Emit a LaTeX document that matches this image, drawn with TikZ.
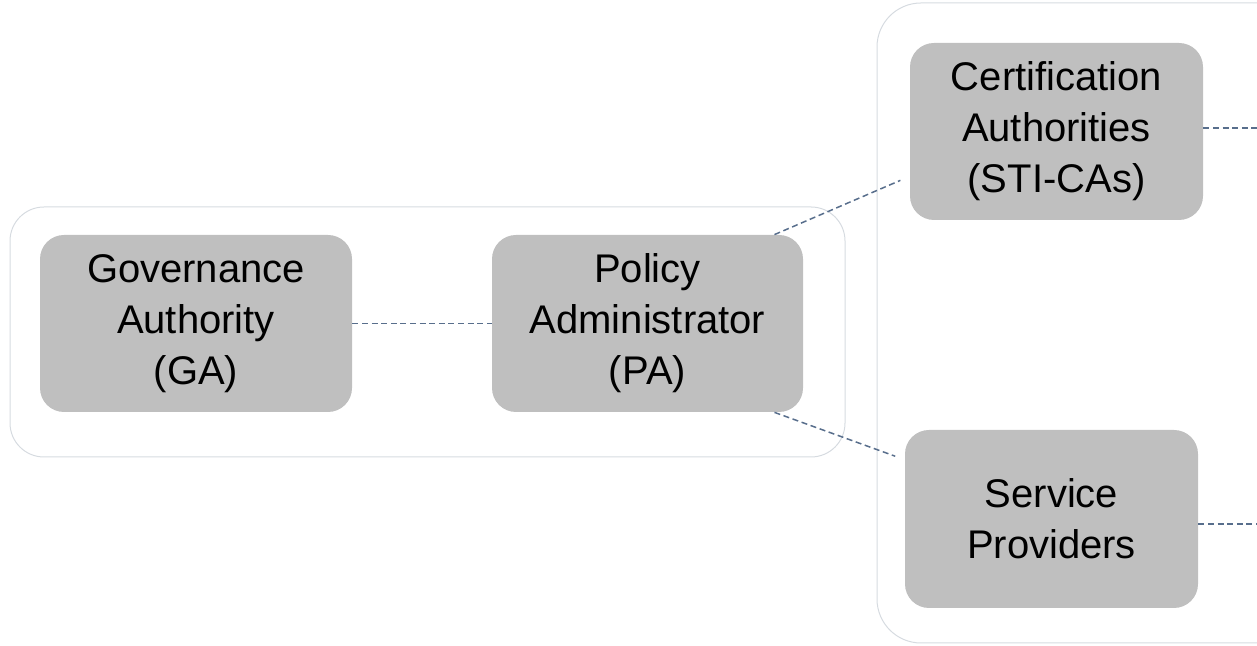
\documentclass[tikz,border=0pt]{standalone}
\usepackage{fontspec}
\setmainfont{Liberation Sans}
\usetikzlibrary{calc}
\definecolor{boxgray}{RGB}{191,191,191}
\definecolor{linkblue}{RGB}{88,110,140}
\definecolor{framegray}{RGB}{214,219,224}

\begin{document}
\begin{tikzpicture}[x=0.5pt,y=0.5pt,
    role/.style={fill=boxgray,rounded corners=12pt,align=center,inner sep=0pt,
      font=\fontsize{20}{25.5}\selectfont},
    link/.style={draw=linkblue,line width=0.75pt,dash pattern=on 3pt off 1.8pt},
    frame/.style={draw=framegray,line width=0.5pt}]
        \clip (0,0) rectangle (1257,646);
        % left group
        \draw[frame,rounded corners=17pt] (10,189) rectangle (845,439);
        % right group
        \draw[frame,rounded corners=22pt] (877,3) rectangle (1310,643);
        % authorities
        \node[role,minimum width=156pt,minimum height=88.5pt] (ga) at (196,322.5) {Governance\\Authority\\(GA)};
        \node[role,minimum width=155.5pt,minimum height=88.5pt] (pa) at (647.5,322.5) {Policy\\Administrator\\(PA)};
        \node[role,minimum width=146.5pt,minimum height=88.5pt] (ca) at (1056.5,514.5) {Certification\\Authorities\\(STI-CAs)};
        \node[role,minimum width=146.5pt,minimum height=89pt] (sp) at (1051.5,127) {Service\\Providers};
        % off-page ends
        \coordinate (caout) at ($(ca.east)+(60,3.5)$);
        \coordinate (spout) at ($(sp.east)+(65,-5)$);
        % links
        \draw[link] (ga) -- (pa);
        \draw[link,shorten >=5pt] (pa.35) -- (ca.197);
        \draw[link,shorten >=5pt] (pa.-35) -- (sp.158);
        \draw[link] ($(ca.east)+(0,3.5)$) -- (caout);
        \draw[link] ($(sp.east)+(0,-5)$) -- (spout);
    \end{tikzpicture}
\end{document}
